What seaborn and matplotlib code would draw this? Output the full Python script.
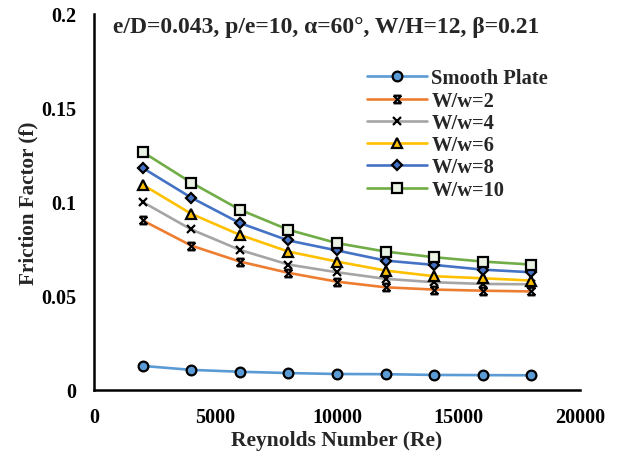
import numpy as np
import pandas as pd
import matplotlib
matplotlib.use("Agg")
import matplotlib.pyplot as plt
from matplotlib.path import Path
import seaborn as sns

re_vals = [2000, 4000, 6000, 8000, 10000, 12000, 14000, 16000, 18000]
smooth = [0.0128, 0.0107, 0.0097, 0.0090, 0.0085, 0.0084, 0.0080, 0.0079, 0.0078]
ww2 = [0.0902, 0.0768, 0.0683, 0.0623, 0.0576, 0.0546, 0.0534, 0.0528, 0.0524]
ww4 = [0.1000, 0.0854, 0.0745, 0.0667, 0.0626, 0.0591, 0.0573, 0.0564, 0.0562]
ww6 = [0.1092, 0.0937, 0.0825, 0.0736, 0.0683, 0.0635, 0.0605, 0.0594, 0.0582]
ww8 = [0.1181, 0.1023, 0.0888, 0.0795, 0.0742, 0.0688, 0.0665, 0.0640, 0.0626]
ww10 = [0.1266, 0.1103, 0.0959, 0.0852, 0.0781, 0.0736, 0.0706, 0.0683, 0.0667]
labels = ["Smooth Plate", "W/w=2", "W/w=4", "W/w=6", "W/w=8", "W/w=10"]
series = [smooth, ww2, ww4, ww6, ww8, ww10]

rows = []
for lab, vals in zip(labels, series):
    for r, v in zip(re_vals, vals):
        rows.append({"Re": r, "f": v, "series": lab})
df = pd.DataFrame(rows)

sns.set_theme(style="white")
plt.rcParams['font.family'] = ['Liberation Serif', 'DejaVu Serif']
plt.rcParams['font.weight'] = 'bold'

hourglass = Path([(-1, 1), (1, -1), (-1, -1), (1, 1), (-1, 1), (1, 1), (-1, -1), (1, -1)],
                 [Path.MOVETO, Path.LINETO, Path.MOVETO, Path.LINETO,
                  Path.MOVETO, Path.LINETO, Path.MOVETO, Path.LINETO])

colors = ["#5B9BD5", "#ED7D31", "#A5A5A5", "#FFC000", "#4472C4", "#70AD47"]
markers = ["o", hourglass, "x", "^", "D", "s"]
mfc = ["#5B9BD5", "black", "black", "#FFC000", "#4472C4", "#EAF3E4"]
msize = [7, 5.5, 5.5, 6.5, 5.5, 6.5]

fig = plt.figure(figsize=(6.2, 4.52), dpi=100)
ax = fig.add_axes([0.1516, 0.135, 0.784, 0.832])

for i, lab in enumerate(labels):
    sub = df[df["series"] == lab]
    sns.lineplot(data=sub, x="Re", y="f", ax=ax, color=colors[i], linewidth=1.9,
                 marker=markers[i], markersize=msize[i], markerfacecolor=mfc[i],
                 markeredgecolor="black", markeredgewidth=1.6, label=lab)

ax.set_xlim(0, 20000)
ax.set_ylim(0, 0.2)
ax.set_xticks([0, 5000, 10000, 15000, 20000])
ax.set_yticks([0, 0.05, 0.1, 0.15, 0.2])
ax.set_xticklabels(["0", "5000", "10000", "15000", "20000"])
ax.set_yticklabels(["0", "0.05", "0.1", "0.15", "0.2"])
for s in ["top", "right"]:
    ax.spines[s].set_visible(False)
for s in ["left", "bottom"]:
    ax.spines[s].set_color("black")
    ax.spines[s].set_linewidth(1.8)
ax.tick_params(axis="both", direction="inout", length=9, width=1.8, colors="black",
               labelsize=14.5, pad=8)
for t in ax.get_xticklabels() + ax.get_yticklabels():
    t.set_fontweight("bold")

ax.set_xlabel("Reynolds Number (Re)", fontsize=15.5, fontweight="bold", labelpad=2)
ax.set_ylabel("Friction Factor (f)", fontsize=15.2, fontweight="bold", labelpad=2)

ax.text(0.039, 0.967, "e/D=0.043, p/e=10, α=60°, W/H=12, β=0.21", transform=ax.transAxes,
        fontsize=17, fontweight="bold", va="center", ha="left")

leg = ax.legend(loc="upper left", bbox_to_anchor=(0.562, 0.855), frameon=False,
                prop={"weight": "bold", "size": 14.8}, handlelength=2.9,
                handletextpad=0.22, labelspacing=0.11, borderaxespad=0, borderpad=0)

fig.savefig("out.png", dpi=100)
